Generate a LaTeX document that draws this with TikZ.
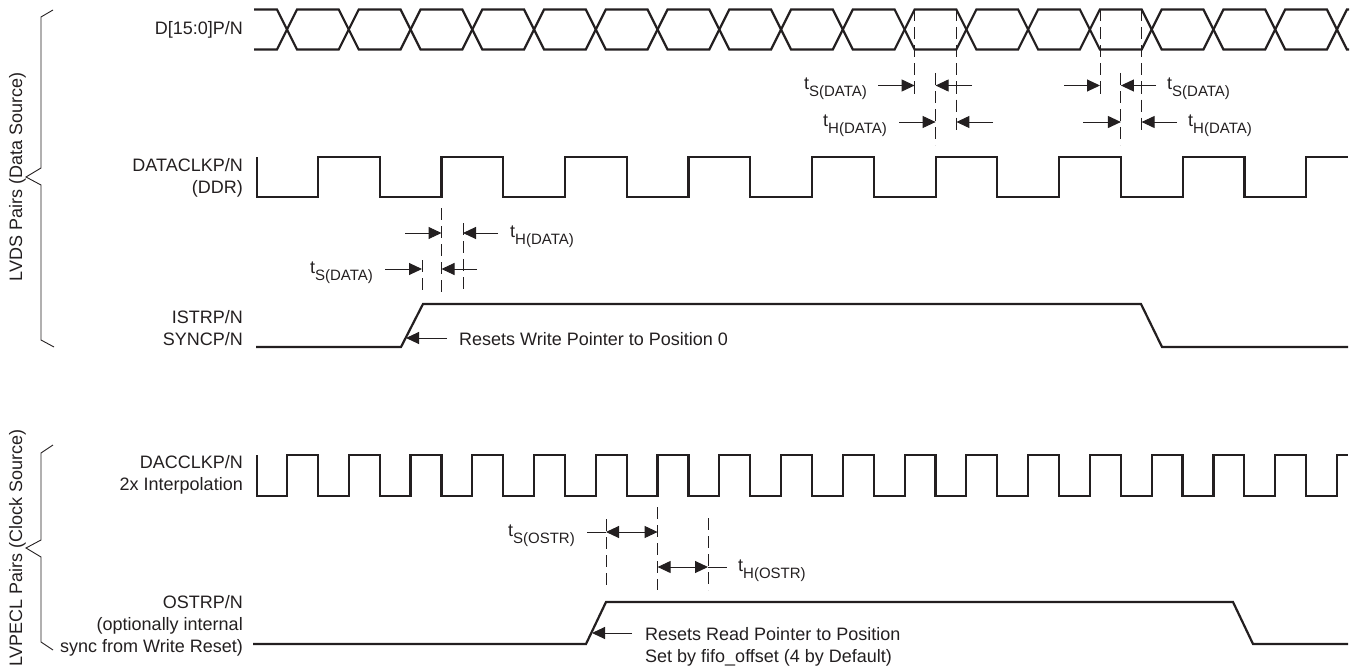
\documentclass[tikz,border=0pt]{standalone}
\usepackage{fontspec}
\setmainfont{Liberation Sans}
\usetikzlibrary{arrows.meta}
\definecolor{ink}{RGB}{35,31,32}
\newcommand{\tsub}[1]{t\raisebox{-7pt}{\fontsize{15}{15}\selectfont #1}}
\begin{document}
\begin{tikzpicture}[x=1pt,y=-1pt,
  wave/.style={draw=ink, line width=2.2pt, line join=miter},
  thinln/.style={draw=ink, line width=0.9pt},
  dashln/.style={draw=ink, line width=1pt, dash pattern=on 12pt off 6pt},
  arr/.style={draw=ink, line width=1pt, -{Triangle[length=13pt,width=12pt]}},
  darr/.style={draw=ink, line width=1pt, {Triangle[length=13pt,width=12pt]}-{Triangle[length=13pt,width=12pt]}},
  sig/.style={font=\fontsize{18}{22}\selectfont, text=ink, inner sep=0pt, align=right},
  lab/.style={font=\fontsize{18}{22}\selectfont, text=ink, inner sep=0pt},
]
\useasboundingbox (0,0) rectangle (1352,669);

% ---------- braces and group labels ----------
\draw[thinln] (53,10) -- (41,17) -- (41,168) -- (26,177) -- (41,185) -- (41,340) -- (54,347);
\draw[thinln] (53,445) -- (41,453) -- (41,540) -- (26,548) -- (41,557) -- (41,642) -- (53,650);
\node[lab, rotate=90, anchor=base] (lvds) at (22,177) {LVDS Pairs (Data Source)};
\node[lab, rotate=90, anchor=base] (lvpecl) at (22,548) {LVPECL Pairs (Clock Source)};

% ---------- signal names ----------
\node[sig, anchor=base east] (dlab) at (243,35) {D[15:0]P/N};
\node[sig, anchor=east] (dclab) at (243,178) {DATACLKP/N\\(DDR)};
\node[sig, anchor=east] (istrlab) at (243,328) {ISTRP/N\\SYNCP/N};
\node[sig, anchor=east] (daclab) at (243,475) {DACCLKP/N\\2x Interpolation};
\node[sig, anchor=east] (ostrlab) at (243,626) {OSTRP/N\\(optionally internal\\sync from Write Reset)};

% ---------- data bus ----------
\draw[wave] (254,9.5)
  \foreach \k [evaluate=\k as \xa using {287+61.76*\k-10},
               evaluate=\k as \xb using {287+61.76*\k+10},
               evaluate=\k as \ya using {mod(\k,2)==0 ? 9.5 : 49.5},
               evaluate=\k as \yb using {mod(\k,2)==0 ? 49.5 : 9.5}] in {0,...,17}
  { -- (\xa,\ya) -- (\xb,\yb) } -- (1349,9.5);
\draw[wave] (254,49.5)
  \foreach \k [evaluate=\k as \xa using {287+61.76*\k-10},
               evaluate=\k as \xb using {287+61.76*\k+10},
               evaluate=\k as \ya using {mod(\k,2)==0 ? 49.5 : 9.5},
               evaluate=\k as \yb using {mod(\k,2)==0 ? 9.5 : 49.5}] in {0,...,17}
  { -- (\xa,\ya) -- (\xb,\yb) } -- (1349,49.5);

% ---------- DATACLK ----------
\draw[wave] (257,157) -- (257,197)
  \foreach \k [evaluate=\k as \x using {318+61.76*\k},
               evaluate=\k as \ya using {mod(\k,2)==0 ? 197 : 157},
               evaluate=\k as \yb using {mod(\k,2)==0 ? 157 : 197}] in {0,...,16}
  { -- (\x,\ya) -- (\x,\yb) } -- (1348,157);

% ---------- ISTRP ----------
\draw[wave] (256,347) -- (401,347) -- (423,304) -- (1141,304) -- (1162,347) -- (1348,347);

% ---------- DACCLK ----------
\draw[wave] (257,455) -- (257,496)
  \foreach \k [evaluate=\k as \x using {287+30.88*\k},
               evaluate=\k as \ya using {mod(\k,2)==0 ? 496 : 455},
               evaluate=\k as \yb using {mod(\k,2)==0 ? 455 : 496}] in {0,...,34}
  { -- (\x,\ya) -- (\x,\yb) } -- (1348,455);

% ---------- OSTRP ----------
\draw[wave] (253,644) -- (586,644) -- (606,602) -- (1233,602) -- (1253,644) -- (1348,644);

% ---------- top timing, pair 1 ----------
\draw[dashln] (914.6,9.5) -- (914.6,97);
\draw[dashln] (935.6,73) -- (935.6,145);
\draw[dashln] (956.4,9.5) -- (956.4,133);
\draw[arr] (878,85.5) -- (914.6,85.5);
\draw[arr] (972,85.5) -- (935.6,85.5);
\draw[arr] (899,122) -- (935.6,122);
\draw[arr] (993,122) -- (956.4,122);
\node[lab, anchor=base east] (ts1) at (867,89.5) {\tsub{S(DATA)}};
\node[lab, anchor=base east] (th1) at (887,126) {\tsub{H(DATA)}};

% ---------- top timing, pair 2 ----------
\draw[dashln] (1100,9.5) -- (1100,97);
\draw[dashln] (1120.9,73) -- (1120.9,145);
\draw[dashln] (1141.6,9.5) -- (1141.6,133);
\draw[arr] (1064,85.5) -- (1100,85.5);
\draw[arr] (1156,85.5) -- (1120.9,85.5);
\draw[arr] (1083,122) -- (1120.9,122);
\draw[arr] (1177,122) -- (1141.6,122);
\node[lab, anchor=base west] (ts2) at (1167,89.5) {\tsub{S(DATA)}};
\node[lab, anchor=base west] (th2) at (1188,126) {\tsub{H(DATA)}};

% ---------- ISTR timing ----------
\draw[dashln] (441.5,208) -- (441.5,293);
\draw[dashln] (463,223) -- (463,293);
\draw[dashln] (422,260) -- (422,293);
\draw[arr] (405,233) -- (441.5,233);
\draw[arr] (498,233) -- (463,233);
\draw[arr] (385,269) -- (422,269);
\draw[arr] (477,269) -- (441.5,269);
\node[lab, anchor=base west] (th3) at (510,237) {\tsub{H(DATA)}};
\node[lab, anchor=base east] (ts3) at (373,273) {\tsub{S(DATA)}};
\draw[arr] (447,338) -- (406,338);
\node[lab, anchor=base west] (wr) at (459,345) {Resets Write Pointer to Position 0};

% ---------- OSTR timing ----------
\draw[dashln] (606,519) -- (606,590);
\draw[dashln] (657.6,507) -- (657.6,590);
\draw[dashln] (708,518) -- (708,590);
\draw[thinln] (587,532) -- (606,532);
\draw[darr] (606,532) -- (657.6,532);
\draw[darr] (657.6,567) -- (708,567);
\draw[thinln] (708,567) -- (727,567);
\node[lab, anchor=base east] (ts4) at (575,536) {\tsub{S(OSTR)}};
\node[lab, anchor=base west] (th4) at (738,571) {\tsub{H(OSTR)}};
\draw[arr] (632,633) -- (592,633);
\node[lab, anchor=north west, align=left] (rd) at (645,627) {Resets Read Pointer to Position\\Set by fifo\_offset (4 by Default)};
\end{tikzpicture}
\end{document}
